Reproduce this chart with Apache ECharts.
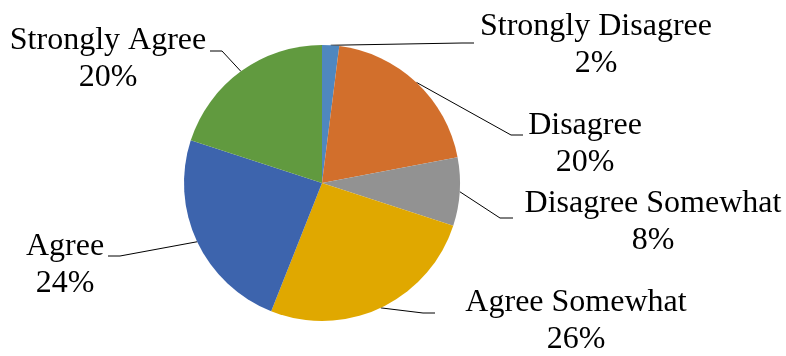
<!DOCTYPE html>
<html>
<head>
<meta charset="utf-8">
<script src="https://cdn.jsdelivr.net/npm/echarts@6/dist/echarts.min.js"></script>
<style>
  html, body { margin: 0; padding: 0; background: #fff; }
  #chart { width: 786px; height: 356px; }
</style>
</head>
<body>
<div id="chart"></div>
<script>
// Survey responses, clockwise from 12 o'clock
const categories = ['Strongly Disagree', 'Disagree', 'Disagree Somewhat', 'Agree Somewhat', 'Agree', 'Strongly Agree'];
const shares = [2, 20, 8, 26, 24, 20];
const sliceColors = ['#4F87BF', '#D26F2C', '#929292', '#E0A800', '#3D64AD', '#619A3F'];

// Where each label block sits (centre) and where its leader line meets it
const labelPlacement = [
  { cx: 596, cy: 45,  elbow: [462, 43],  end: [474, 43] },
  { cx: 585, cy: 144, elbow: [511, 135], end: [523, 135] },
  { cx: 653, cy: 222, elbow: [500, 218], end: [513, 218] },
  { cx: 576, cy: 321, elbow: [423, 313], end: [435, 313] },
  { cx: 65,  cy: 265, elbow: [120, 256], end: [108, 256] },
  { cx: 108, cy: 59,  elbow: [222, 51],  end: [210, 51] }
];

const serifFont = 'Liberation Serif';
const labelText = { fontFamily: serifFont, fontSize: 32, lineHeight: 37, color: '#000000', align: 'center' };

const chart = echarts.init(document.getElementById('chart'), null, { renderer: 'canvas' });

chart.setOption({
  animation: false,
  backgroundColor: '#ffffff',
  textStyle: { fontFamily: serifFont },
  series: [{
    type: 'pie',
    center: [322, 183],
    radius: 138,
    startAngle: 90,
    clockwise: true,
    avoidLabelOverlap: false,
    data: categories.map((name, i) => ({
      name: name,
      value: shares[i],
      itemStyle: { color: sliceColors[i] }
    })),
    itemStyle: { borderWidth: 0 },
    emphasis: { disabled: true },
    label: {
      show: true,
      position: 'outside',
      formatter: '{t|{b}}\n{t|{d}%}',
      fontFamily: serifFont,
      fontSize: 32,
      lineHeight: 37,
      color: '#000000',
      rich: { t: labelText }
    },
    labelLine: {
      show: true,
      length: 10,
      length2: 10,
      lineStyle: { color: '#000000', width: 1 }
    },
    labelLayout: function (params) {
      const p = labelPlacement[params.dataIndex];
      const start = params.labelLinePoints ? params.labelLinePoints[0] : p.elbow;
      return {
        x: p.cx,
        y: p.cy,
        align: 'center',
        verticalAlign: 'middle',
        labelLinePoints: [start, p.elbow, p.end]
      };
    }
  }]
});
</script>
</body>
</html>
